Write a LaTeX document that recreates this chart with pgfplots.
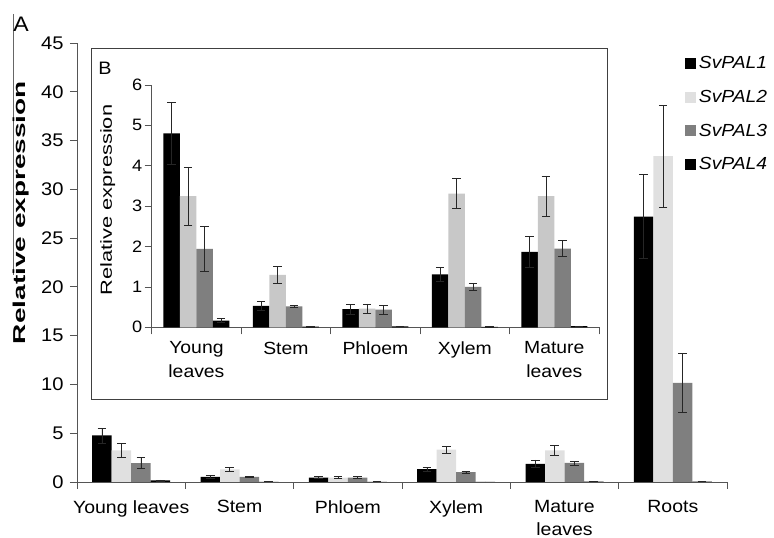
\documentclass[border=0pt]{standalone}
\usepackage{fontspec}
\setmainfont{Liberation Sans}[FakeStretch=1.1]
\usepackage{pgfplots}
\pgfplotsset{compat=1.18}
\definecolor{palA}{HTML}{000000}
\definecolor{palBmain}{HTML}{E0E0E0}
\definecolor{palBin}{HTML}{C8C8C8}
\definecolor{palC}{HTML}{7F7F7F}
\definecolor{axisgray}{HTML}{555555}
\begin{document}
\begin{tikzpicture}[x=1pt,y=1pt]
\useasboundingbox (0,0) rectangle (774,538);
\pgfplotsset{
  mystyle/.style={
    scale only axis, axis lines*=left,
    axis line style={axisgray, line width=0.8pt, -},
    tick align=outside, major tick length=7pt,
    tick style={axisgray, line width=0.8pt},
    /pgf/number format/assume math mode=true,
    ybar=0pt,
    x tick label as interval,
    xticklabel style={align=center},
    error bars/y dir=both, error bars/y explicit,
    error bars/error bar style={black!85, line width=0.7pt, solid},
    error bars/error mark=-,
    error bars/error mark options={black!85, line width=0.7pt, mark size=4.3pt, rotate=90},
  }
}
% ---------------- main axis ----------------
\begin{axis}[mystyle,
  at={(77pt,56pt)}, anchor=south west,
  width=650pt, height=439pt,
  xmin=-0.5, xmax=5.5, ymin=0, ymax=45,
  bar width=19.5pt,
  ytick={0,5,...,45},
  yticklabel style={font=\fontsize{18.3}{21}\selectfont, xshift=-3pt},
  xtick={-0.5,0.5,1.5,2.5,3.5,4.5,5.5},
  xticklabels={Young leaves,Stem,Phloem,Xylem,Mature\\leaves,Roots,},
  xticklabel style={font=\fontsize{17.7}{23}\selectfont, yshift=-8pt},
  legend style={at={(0.935,0.975)}, anchor=north west, draw=none, fill=none,
    font=\fontsize{17.5}{20}\selectfont\itshape, row sep=14.9pt,
    inner sep=0pt, nodes={inner sep=2.5pt}},
  legend cell align=left,
  legend image code/.code={\fill[#1] (0pt,-5.5pt) rectangle (11.5pt,5.5pt);},
]
\addplot[fill=palA, draw=none] coordinates {
  (0,4.78) +- (0,0.77)
  (1,0.53) +- (0,0.11)
  (2,0.45) +- (0,0.12)
  (3,1.31) +- (0,0.17)
  (4,1.87) +- (0,0.39)
  (5,27.2) +- (0,4.3)
};
\addplot[fill=palBmain, draw=none] coordinates {
  (0,3.25) +- (0,0.72)
  (1,1.30) +- (0,0.20)
  (2,0.46) +- (0,0.12)
  (3,3.31) +- (0,0.37)
  (4,3.25) +- (0,0.50)
  (5,33.4) +- (0,5.2)
};
\addplot[fill=palC, draw=none] coordinates {
  (0,1.94) +- (0,0.55)
  (1,0.52) +- (0,0.02)
  (2,0.44) +- (0,0.11)
  (3,1.00) +- (0,0.08)
  (4,1.95) +- (0,0.20)
  (5,10.17) +- (0,3.0)
};
\addplot[fill=palA, draw=none] coordinates {
  (0,0.165) +- (0,0.05)
  (1,0.015) +- (0,0.005)
  (2,0.02) +- (0,0.005)
  (3,0.01) +- (0,0.005)
  (4,0.03) +- (0,0.005)
  (5,0.05) +- (0,0.01)
};
\legend{SvPAL1,SvPAL2,SvPAL3,SvPAL4}
\end{axis}
% ---------------- inset frame ----------------
\draw[fill=white, draw=black!75, line width=0.8pt] (91.7,138.7) rectangle (607.7,489.7);
% ---------------- inset axis ----------------
\begin{axis}[mystyle,
  at={(151.7pt,210.7pt)}, anchor=south west,
  width=447.3pt, height=242.3pt,
  xmin=-0.5, xmax=4.5, ymin=0, ymax=6,
  bar width=16.5pt,
  ytick={0,1,...,6},
  yticklabel style={font=\fontsize{16.5}{19}\selectfont, xshift=1pt},
  xtick={-0.5,0.5,1.5,2.5,3.5,4.5},
  xticklabels={Young\\leaves,Stem,Phloem,Xylem,Mature\\leaves,},
  xticklabel style={font=\fontsize{17.6}{24}\selectfont, yshift=-4pt},
]
\addplot[fill=palA, draw=none] coordinates {
  (0,4.80) +- (0,0.77)
  (1,0.53) +- (0,0.11)
  (2,0.45) +- (0,0.12)
  (3,1.31) +- (0,0.17)
  (4,1.87) +- (0,0.39)
};
\addplot[fill=palBin, draw=none] coordinates {
  (0,3.25) +- (0,0.72)
  (1,1.30) +- (0,0.20)
  (2,0.46) +- (0,0.12)
  (3,3.31) +- (0,0.37)
  (4,3.25) +- (0,0.50)
};
\addplot[fill=palC, draw=none] coordinates {
  (0,1.94) +- (0,0.55)
  (1,0.52) +- (0,0.02)
  (2,0.44) +- (0,0.11)
  (3,1.00) +- (0,0.08)
  (4,1.95) +- (0,0.20)
};
\addplot[fill=palA, draw=none] coordinates {
  (0,0.165) +- (0,0.05)
  (1,0.015) +- (0,0.005)
  (2,0.02) +- (0,0.005)
  (3,0.01) +- (0,0.005)
  (4,0.03) +- (0,0.005)
};
\end{axis}
% ---------------- labels ----------------
\draw[black!60, line width=0.8pt] (13.3,524) -- (13.3,263);
\node[font=\fontsize{21}{24}\selectfont, anchor=center] at (21,513.5) {A};
\node[font=\fontsize{18}{21}\selectfont, anchor=center] at (105,469.5) {B};
\node[rotate=90, anchor=center, inner sep=0pt] at (21.3,325.5)
  {\scalebox{1.48}[1]{\fontsize{17.2}{20}\selectfont\bfseries Relative expression}};
\node[rotate=90, anchor=center, inner sep=0pt] at (107.8,338)
  {\scalebox{1.24}[1]{\fontsize{16}{19}\selectfont Relative expression}};
\end{tikzpicture}
\end{document}
